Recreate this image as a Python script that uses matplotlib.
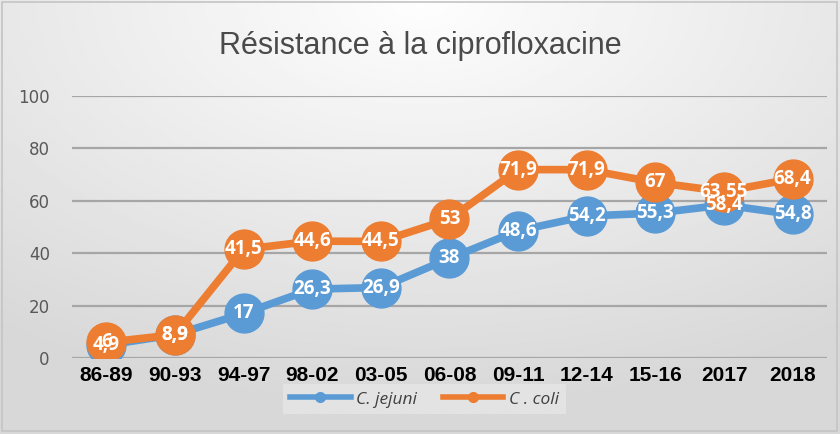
import numpy as np
import matplotlib.pyplot as plt
from matplotlib.lines import Line2D
from matplotlib.patches import Rectangle

periods = ["86-89", "90-93", "94-97", "98-02", "03-05", "06-08",
           "09-11", "12-14", "15-16", "2017", "2018"]
jejuni = [4.9, 8.9, 17, 26.3, 26.9, 38, 48.6, 54.2, 55.3, 58.4, 54.8]
coli = [6, 8.9, 41.5, 44.6, 44.5, 53, 71.9, 71.9, 67, 63.55, 68.4]
yticks = [0, 20, 40, 60, 80, 100]

blue = "#5b9bd5"
orange = "#ed7d31"

fig = plt.figure(figsize=(8.4, 4.34), dpi=100)

# background gradient, light in the upper middle, greyer to the edges
bg = fig.add_axes([0, 0, 1, 1], zorder=-10)
yy, xx = np.mgrid[0:1:200j, 0:1:400j]
r = np.sqrt(((xx - 0.5) * 1.0) ** 2 + ((yy - 0.0) * 0.9) ** 2)
bg.imshow(0.995 - 0.15 * np.clip(r / 0.85, 0, 1), cmap="gray", vmin=0, vmax=1,
          aspect="auto", extent=[0, 1, 0, 1], origin="upper")
bg.axis("off")
fig.patches.append(Rectangle((0.002, 0.006), 0.995, 0.99, transform=fig.transFigure,
                             fill=False, edgecolor="#c4c4c4", lw=1.2))

ax = fig.add_axes([0.0857, 0.1751, 0.8988, 0.6037])
ax.patch.set_alpha(0)
x = np.arange(len(periods))

ax.plot(x, jejuni, color=blue, lw=5.5, marker="o", ms=28, zorder=3)
ax.plot(x, coli, color=orange, lw=5.5, marker="o", ms=28, zorder=4)

for xi, v in zip(x, jejuni):
    ax.text(xi, v, f"{v:g}".replace(".", ","), ha="center", va="center",
            color="white", fontsize=13.5, fontweight="bold", family="Open Sans", zorder=6)
for xi, v in zip(x, coli):
    ax.text(xi, v, f"{v:g}".replace(".", ","), ha="center", va="center",
            color="white", fontsize=13.5, fontweight="bold", family="Open Sans", zorder=6)

ax.set_xlim(-0.5, len(periods) - 0.5)
ax.set_ylim(0, 100)
ax.set_yticks(yticks)
ax.set_xticks(x)
ax.set_xticklabels(periods, fontsize=15, fontweight="bold", family="Liberation Sans")
ax.tick_params(axis="y", labelsize=12, colors="#595959", length=0, pad=16)
ax.tick_params(axis="x", length=0, pad=6, labelcolor="black")
ax.grid(axis="y", color="#a6a6a6", lw=1.6)
ax.set_axisbelow(True)
for s in ax.spines.values():
    s.set_visible(False)

fig.text(0.5, 0.895, "Résistance à la ciprofloxacine", ha="center", va="center",
         fontsize=22, color="#4a4a4a", family="Liberation Sans")

handles = [Line2D([], [], color=blue, lw=4, marker="o", ms=7),
           Line2D([], [], color=orange, lw=4, marker="o", ms=7)]
leg = fig.legend(handles, ["C. jejuni", "C . coli"], loc="lower center",
                 bbox_to_anchor=(0.505, 0.025), ncol=2, frameon=True, fancybox=False,
                 prop={"size": 12.5, "style": "italic", "family": "Open Sans"},
                 handlelength=3.5, columnspacing=1.5, handletextpad=0.3)
leg.get_frame().set_facecolor("#e6e6e6")
leg.get_frame().set_edgecolor("none")
for t in leg.get_texts():
    t.set_color("#404040")

fig.savefig("out.png", dpi=100)
